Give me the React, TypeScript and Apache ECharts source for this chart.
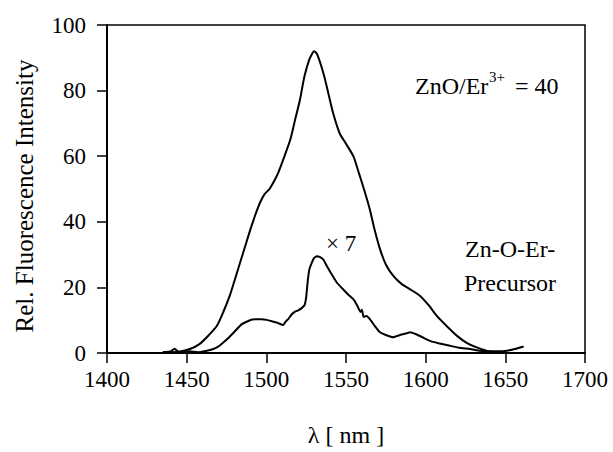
import React, { useEffect, useRef } from "react";
import * as echarts from "echarts";

// wavelength (nm) and intensity of ZnO/Er3+ = 40 sample
const mainWavelength = [
  1435, 1445, 1452, 1458, 1464, 1469, 1473, 1477, 1480, 1483.5, 1487, 1490, 1493, 1496, 1499,
  1502, 1505, 1507.5, 1511, 1515, 1518, 1521, 1524, 1527, 1529, 1530, 1532, 1536, 1539, 1542,
  1546, 1550, 1554.6, 1558, 1562, 1565, 1568, 1571.4, 1575, 1579.7, 1585, 1590, 1596.5, 1602,
  1607, 1613, 1619.5, 1626, 1632, 1640, 1648,
];
const mainIntensity = [
  0, 0.4, 1.2, 2.7, 5.5, 8.3, 12.5, 17.4, 22, 27.5, 33, 37.7, 42, 45.8, 48.5,
  50, 52.5, 55, 59.5, 65, 71, 77, 84.5, 89.5, 91.5, 92, 91, 85, 79, 73,
  67, 63.8, 60, 55, 48.8, 43.7, 37.5, 31.6, 27, 23.5, 21, 19.5, 17.4, 14.5,
  11.3, 8.3, 5.3, 3, 1.7, 0.5, 0.3,
];

// Zn-O-Er-Precursor (x 7)
const precursorWavelength = [
  1435, 1440, 1442.5, 1444.5, 1447, 1452, 1457, 1462, 1466.7, 1470, 1473, 1476, 1480, 1484.6,
  1488, 1491, 1494, 1497, 1500.3, 1504, 1507, 1510.7, 1512, 1514, 1516, 1518, 1520, 1522, 1524,
  1525, 1526, 1527, 1528.5, 1530, 1531.6, 1533.5, 1535.8, 1538, 1541, 1544.2, 1548, 1551, 1554.6,
  1557, 1559, 1560, 1561, 1563, 1565, 1568, 1571.4, 1575, 1579.7, 1584, 1588, 1590.2, 1594, 1598,
  1602.7, 1608, 1615.3, 1621, 1627.9, 1634, 1640, 1646, 1651, 1656, 1661.5,
];
const precursorIntensity = [
  0.3, 0.5, 1.3, 0.5, 0.3, 0.5, 0.2, 0.6, 1.2, 2, 3.2, 4.5, 6.5, 8.8,
  9.6, 10.2, 10.3, 10.3, 10.1, 9.6, 9.2, 8.5, 9.5, 10.5, 11.8, 12.6, 13, 13.6, 14.6,
  17, 22, 25.5, 27.5, 29, 29.5, 29.3, 28.5, 26.5, 24, 21.5, 19.5, 18, 16.4,
  14.5, 12.5, 13.2, 11, 11.3, 10.3, 8.3, 6.3, 5.5, 4.8, 5.5, 6, 6.3, 5.7, 4.8,
  3.7, 3, 2.2, 1.6, 1.2, 0.7, 0.5, 0.5, 0.7, 1.2, 2,
];

const xTicks = { min: 1400, max: 1700, interval: 50 };
const yTicks = { min: 0, max: 100, interval: 20 };

const FONT = "Liberation Serif";

export default function App() {
  const ref = useRef<HTMLDivElement>(null);
  useEffect(() => {
    if (!ref.current) return;
    const chart = echarts.init(ref.current, undefined, { renderer: "svg" });
    const zip = (xs: number[], ys: number[]) => xs.map((x, i) => [x, ys[i]]);
    const txt = (text: string, x: number, y: number, size: number) => ({
      type: "text",
      x,
      y,
      style: {
        text,
        fontFamily: FONT,
        fontSize: size,
        fill: "#000",
        align: "left",
        verticalAlign: "middle",
      },
    });
    chart.setOption({
      animation: false,
      backgroundColor: "#fff",
      textStyle: { fontFamily: FONT },
      grid: {
        left: 107,
        right: 28,
        top: 25,
        bottom: 98,
        show: true,
        borderColor: "#000",
        borderWidth: 1.5,
      },
      xAxis: {
        type: "value",
        min: xTicks.min,
        max: xTicks.max,
        interval: xTicks.interval,
        axisLine: { show: true, lineStyle: { color: "#000", width: 2 } },
        axisTick: { show: true, inside: false, length: 10, lineStyle: { color: "#000", width: 1.5 } },
        axisLabel: {
          fontFamily: FONT,
          fontSize: 23,
          color: "#000",
          margin: 15,
          formatter: (v: number) => String(v),
        },
        splitLine: { show: false },
        name: "λ [ nm ]",
        nameLocation: "middle",
        nameGap: 70,
        nameTextStyle: { fontFamily: FONT, fontSize: 24, color: "#000" },
      },
      yAxis: {
        type: "value",
        min: yTicks.min,
        max: yTicks.max,
        interval: yTicks.interval,
        axisLine: { show: true, lineStyle: { color: "#000", width: 2 } },
        axisTick: { show: true, inside: false, length: 10, lineStyle: { color: "#000", width: 1.5 } },
        axisLabel: {
          fontFamily: FONT,
          fontSize: 23,
          color: "#000",
          margin: 21,
          formatter: (v: number) => String(v),
        },
        splitLine: { show: false },
      },
      series: [
        {
          name: "ZnO/Er3+ = 40",
          type: "line",
          data: zip(mainWavelength, mainIntensity),
          showSymbol: false,
          smooth: 0.25,
          lineStyle: { color: "#000", width: 2 },
        },
        {
          name: "Zn-O-Er-Precursor x 7",
          type: "line",
          data: zip(precursorWavelength, precursorIntensity),
          showSymbol: false,
          smooth: 0.1,
          lineStyle: { color: "#000", width: 2 },
        },
      ],
      graphic: [
        txt("ZnO/Er", 415, 86, 24),
        txt("3+", 489, 77, 15),
        txt("= 40", 515, 86, 24),
        txt("× 7", 326, 243, 23),
        txt("Zn-O-Er-", 465, 249, 24),
        txt("Precursor", 464, 283, 24),
        {
          type: "text",
          x: 24,
          y: 196,
          rotation: Math.PI / 2,
          style: {
            text: "Rel. Fluorescence Intensity",
            fontFamily: FONT,
            fontSize: 25,
            fill: "#000",
            align: "center",
            verticalAlign: "middle",
          },
        },
      ],
    });
    return () => chart.dispose();
  }, []);
  return (
    <div
      ref={ref}
      style={{ position: "fixed", left: 0, top: 0, width: 613, height: 452, background: "#fff" }}
    />
  );
}
